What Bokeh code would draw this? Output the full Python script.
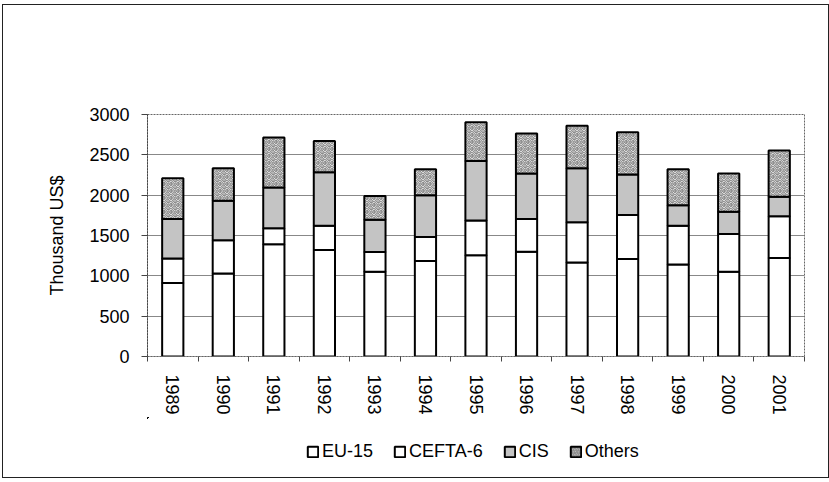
from bokeh.plotting import figure
from bokeh.layouts import column
from bokeh.models import Range1d, FixedTicker, Legend, LegendItem, ColumnDataSource
from bokeh.transform import stack
from bokeh.embed import file_html
from bokeh.resources import INLINE

years = ["1989", "1990", "1991", "1992", "1993", "1994", "1995",
         "1996", "1997", "1998", "1999", "2000", "2001"]
eu15 = [910, 1030, 1390, 1320, 1050, 1185, 1255, 1300, 1165, 1210, 1140, 1050, 1220]
cefta6 = [305, 410, 200, 300, 245, 295, 430, 405, 500, 545, 480, 470, 520]
cis = [490, 490, 505, 665, 400, 520, 740, 565, 670, 500, 255, 275, 240]
others = [505, 405, 620, 385, 295, 320, 480, 495, 525, 525, 445, 475, 575]
series_names = ["EU-15", "CEFTA-6", "CIS", "Others"]
y_ticks = [0, 500, 1000, 1500, 2000, 2500, 3000]

xpos = [i + 0.5 for i in range(len(years))]
source = ColumnDataSource(dict(x=xpos, eu15=eu15, cefta6=cefta6, cis=cis, others=others))
keys = ["eu15", "cefta6", "cis", "others"]

FONT = "Liberation Sans"
fills = ["white", "white", "#c4c4c4", "#f4f4f4"]
hatches = [" ", " ", " ", "spiral"]

p = figure(width=825, height=412, output_backend="svg", toolbar_location=None,
           x_range=Range1d(0, len(years)), y_range=Range1d(0, 3000),
           min_border_left=144, min_border_right=24, min_border_top=109,
           min_border_bottom=60)

for i, k in enumerate(keys):
    p.vbar(x="x", width=0.42, bottom=stack(*keys[:i]), top=stack(*keys[:i + 1]),
           source=source, fill_color=fills[i], line_color="black", line_width=2,
           hatch_pattern=hatches[i], hatch_color="#555", hatch_scale=7, hatch_weight=1)

# axes
p.xaxis.ticker = FixedTicker(ticks=xpos, minor_ticks=list(range(len(years) + 1)))
p.xaxis.major_label_overrides = {x: y for x, y in zip(xpos, years)}
p.xaxis.major_label_orientation = "vertical"
p.xaxis.major_tick_line_color = None
p.xaxis.minor_tick_in = 0
p.xaxis.minor_tick_out = 5
p.xaxis.minor_tick_line_color = "#444"
p.xaxis.axis_line_color = "#666"
p.xaxis.axis_line_dash = "2 1"
p.xaxis.major_label_standoff = 12
p.xaxis.major_label_text_font = FONT
p.xaxis.major_label_text_font_size = "18px"
p.xaxis.major_label_text_color = "black"

p.yaxis.ticker = FixedTicker(ticks=y_ticks)
p.yaxis.minor_tick_line_color = None
p.yaxis.major_tick_in = 0
p.yaxis.major_tick_out = 6
p.yaxis.major_tick_line_color = "#444"
p.yaxis.axis_line_color = "#444"
p.yaxis.axis_line_dash = "2 1"
p.yaxis.major_label_standoff = 12
p.yaxis.major_label_text_font = FONT
p.yaxis.major_label_text_font_size = "18px"
p.yaxis.major_label_text_color = "black"
p.yaxis.axis_label = "Thousand US$"
p.yaxis.axis_label_text_font = FONT
p.yaxis.axis_label_text_font_size = "18px"
p.yaxis.axis_label_text_font_style = "normal"
p.yaxis.axis_label_text_color = "black"
p.yaxis.axis_label_standoff = 19

p.xgrid.grid_line_color = None
p.ygrid.grid_line_color = "#888"
p.ygrid.grid_line_width = 1
p.outline_line_color = "#666"
p.outline_line_dash = "2 1"
p.background_fill_color = "white"

# legend strip below the chart (its bars lie outside its visible range; only the legend shows)
lg = figure(width=825, height=60, output_backend="svg", toolbar_location=None,
            x_range=Range1d(1000, 1001), y_range=Range1d(-2, -1),
            x_axis_location=None, y_axis_location=None,
            min_border=0, outline_line_color=None)
lg.grid.grid_line_color = None
items = []
for i, n in enumerate(series_names):
    r = lg.vbar(x="x", width=0.42, bottom=stack(*keys[:i]), top=stack(*keys[:i + 1]),
                source=source, fill_color=fills[i], line_color="black", line_width=2,
                hatch_pattern=hatches[i], hatch_color="#555", hatch_scale=5, hatch_weight=1)
    items.append(LegendItem(label=n, renderers=[r]))

legend = Legend(items=items, orientation="horizontal", location=(159, 15),
                border_line_color=None, background_fill_alpha=0,
                label_text_font=FONT, label_text_font_size="18px", label_text_color="black",
                glyph_width=13, glyph_height=13, label_standoff=3, spacing=20,
                padding=0, margin=0)
lg.add_layout(legend)

layout = column(p, lg, spacing=0,
                styles={"border": "1px solid #222", "margin-left": "2px", "margin-top": "4px"})

open("out.html", "w").write(file_html(layout, INLINE))
